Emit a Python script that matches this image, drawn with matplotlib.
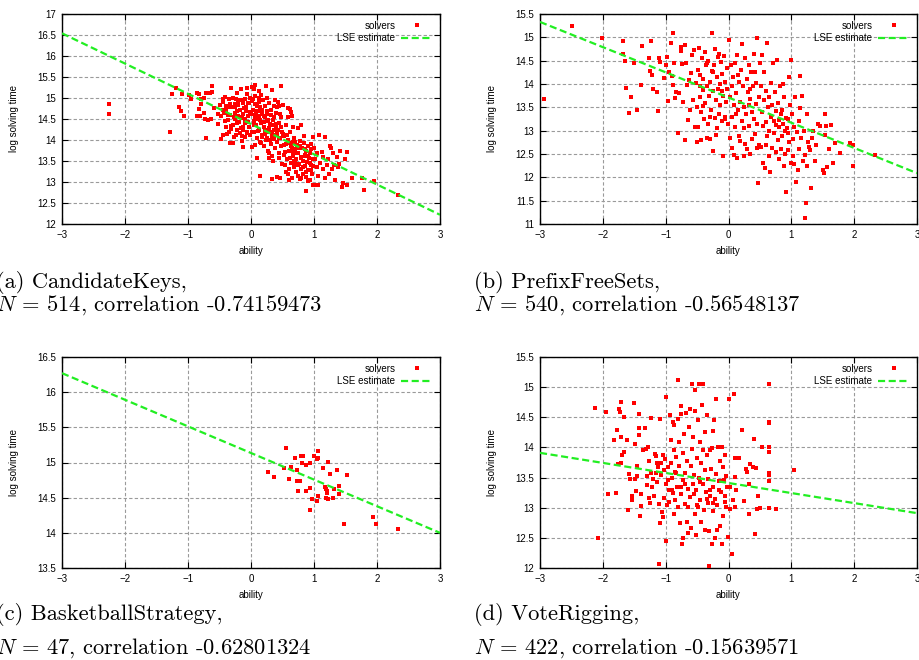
#!/usr/bin/env python3
"""Ability vs. log solving time for four problems, gnuplot-like 2x2 panel."""

import matplotlib

matplotlib.use("Agg")

import matplotlib.pyplot as plt
import numpy as np
from matplotlib.ticker import FormatStrFormatter, MultipleLocator

COLORS = {
    "point": "#ff0000",
    "line": "#22ee22",
    "grid": "#9a9a9a",
    "ink": "#000000",
}

LINE_X = [-3.0, 3.0]

# (a) CandidateKeys
A_PTS = [
    (-2.26, 14.85), (-2.25, 14.61), (-1.28, 14.18), (-1.26, 15.09), (-1.19, 15.24),
    (-1.15, 14.78), (-1.11, 14.68), (-1.06, 14.56), (-1.10, 15.09), (-0.99, 15.08),
    (-0.95, 14.98), (-0.86, 15.11), (-0.83, 15.10), (-0.86, 14.58), (-0.83, 14.73),
    (-0.81, 14.58), (-0.79, 14.86), (-0.79, 14.98), (-0.75, 14.99), (-0.75, 14.65),
    (-0.72, 15.13), (-0.73, 14.51), (-0.72, 14.04), (-0.68, 14.48), (-0.65, 15.13),
    (-0.62, 15.14), (-0.62, 15.29), (-0.64, 14.51), (-0.58, 14.76), (-0.53, 14.63),
    (-0.52, 14.37), (-0.49, 14.84), (-0.45, 14.97), (-0.47, 14.02), (-0.44, 14.11),
    (-0.43, 14.64), (-0.41, 15.03), (-0.40, 14.71), (-0.39, 14.32), (-0.37, 14.48),
    (-0.35, 14.98), (-0.34, 14.86), (-0.33, 14.59), (-0.33, 13.92), (-0.31, 15.25),
    (-0.31, 14.34), (-0.30, 14.79), (-0.29, 13.92), (-0.28, 15.00), (-0.27, 14.08),
    (-0.26, 14.50), (-0.25, 14.65), (-0.25, 14.79), (-0.24, 14.97), (-0.23, 14.24),
    (-0.22, 15.11), (-0.22, 14.40), (-0.21, 14.83), (-0.20, 14.57), (-0.18, 14.17),
    (-0.18, 14.95), (-0.17, 14.71), (-0.16, 15.21), (-0.16, 14.29), (-0.15, 13.97),
    (-0.14, 14.52), (-0.13, 14.87), (-0.12, 14.24), (-0.12, 14.63), (-0.12, 13.83),
    (-0.10, 14.97), (-0.09, 14.41), (-0.08, 14.79), (-0.07, 15.09), (-0.07, 14.16),
    (-0.06, 15.25), (-0.05, 14.56), (-0.04, 14.87), (-0.03, 14.32), (-0.02, 14.99),
    (-0.02, 14.67), (-0.01, 14.12), (-0.45, 14.72), (-0.38, 14.15), (-0.32, 14.26),
    (-0.27, 14.55), (-0.19, 14.44), (-0.11, 14.76), (-0.06, 14.20), (-0.44, 14.90),
    (-0.36, 14.60), (-0.23, 14.68), (-0.15, 14.10), (-0.09, 14.50), (-0.03, 14.88),
    (0.01, 15.27), (0.06, 15.30), (0.05, 15.21), (0.02, 13.84), (0.07, 13.88),
    (0.09, 13.56), (0.14, 13.14), (0.12, 15.17), (0.13, 14.99), (0.24, 15.29),
    (0.28, 13.56), (0.34, 15.19), (0.33, 13.08), (0.42, 13.13), (0.48, 15.29),
    (0.46, 13.09), (0.49, 13.44), (0.02, 14.93), (0.03, 14.72), (0.04, 14.45),
    (0.05, 14.20), (0.06, 14.60), (0.07, 14.85), (0.08, 14.35), (0.09, 14.05),
    (0.10, 14.68), (0.11, 14.50), (0.12, 14.90), (0.13, 14.25), (0.14, 13.95),
    (0.15, 14.78), (0.16, 14.40), (0.17, 14.62), (0.18, 14.12), (0.19, 14.95),
    (0.20, 14.30), (0.21, 13.85), (0.22, 14.55), (0.23, 14.80), (0.24, 14.00),
    (0.25, 14.45), (0.26, 14.70), (0.27, 13.75), (0.28, 14.20), (0.29, 14.88),
    (0.30, 14.38), (0.31, 13.90), (0.32, 14.60), (0.33, 14.10), (0.34, 13.62),
    (0.35, 14.48), (0.36, 14.82), (0.37, 14.02), (0.38, 13.80), (0.39, 14.30),
    (0.40, 14.65), (0.41, 13.95), (0.42, 14.15), (0.43, 14.90), (0.44, 13.70),
    (0.45, 14.40), (0.46, 14.05), (0.47, 13.85), (0.48, 14.55), (0.49, 14.20),
    (0.30, 14.00), (0.22, 14.15), (0.12, 14.58), (0.37, 14.25), (0.45, 13.58),
    (0.28, 13.68), (0.16, 13.92), (0.08, 14.62), (0.35, 13.50),
    (0.51, 14.83), (0.58, 14.76), (0.62, 14.75), (0.65, 14.56), (0.64, 14.67),
    (0.67, 14.32), (0.74, 14.28), (0.80, 14.36), (0.84, 14.10), (0.87, 12.79),
    (0.99, 14.06), (0.99, 12.93), (1.03, 12.93), (1.07, 12.93),
    (0.52, 13.65), (0.53, 14.10), (0.54, 13.40), (0.55, 13.90), (0.56, 14.35),
    (0.57, 13.55), (0.58, 13.20), (0.59, 14.00), (0.60, 13.75), (0.61, 13.30),
    (0.62, 14.20), (0.63, 13.85), (0.64, 13.45), (0.65, 13.10), (0.66, 13.95),
    (0.67, 13.62), (0.68, 13.35), (0.69, 14.05), (0.70, 13.78), (0.71, 13.25),
    (0.72, 13.55), (0.73, 13.88), (0.74, 13.15), (0.75, 13.70), (0.76, 13.42),
    (0.77, 13.98), (0.78, 13.08), (0.79, 13.60), (0.80, 13.30), (0.81, 13.82),
    (0.82, 13.50), (0.83, 13.20), (0.84, 13.92), (0.85, 13.65), (0.86, 13.38),
    (0.87, 13.12), (0.88, 13.75), (0.89, 13.48), (0.90, 13.85), (0.91, 13.28),
    (0.92, 13.58), (0.93, 13.05), (0.94, 13.70), (0.95, 13.40), (0.96, 13.90),
    (0.97, 13.18), (0.98, 13.55), (0.60, 13.05), (0.70, 13.45), (0.80, 13.10),
    (0.90, 13.02), (0.55, 13.25), (0.66, 13.72), (0.76, 13.82), (0.86, 13.62),
    (0.96, 13.28),
    (1.00, 13.80), (1.02, 13.55), (1.04, 13.35), (1.05, 13.68), (1.06, 13.15),
    (1.08, 14.13), (1.10, 13.45), (1.12, 13.72), (1.14, 13.30), (1.15, 13.60),
    (1.17, 14.07), (1.18, 13.10), (1.20, 13.40), (1.22, 13.55), (1.24, 13.20),
    (1.25, 13.85), (1.27, 13.82), (1.28, 13.30), (1.30, 13.70), (1.32, 13.40),
    (1.34, 13.05), (1.36, 13.60), (1.38, 13.35), (1.40, 13.42), (1.42, 13.75),
    (1.45, 12.88), (1.46, 12.98), (1.49, 13.55), (1.52, 12.93), (1.53, 13.72),
    (1.60, 13.10), (1.76, 13.10), (1.79, 12.82), (1.96, 13.03), (2.33, 12.70),
    (-0.42, 14.45), (-0.33, 14.78), (-0.28, 14.35), (-0.24, 14.12), (-0.20, 14.88),
    (-0.17, 14.55), (-0.13, 14.30), (-0.10, 14.06), (-0.08, 14.70), (-0.04, 14.42),
    (0.00, 14.62), (0.01, 14.18), (0.03, 14.98), (0.05, 14.35), (0.07, 14.52),
    (0.09, 14.80), (0.11, 14.22), (0.13, 14.70), (0.15, 14.48), (0.17, 14.08),
    (0.18, 14.72), (0.20, 14.58), (0.21, 14.42), (0.23, 14.25), (0.25, 14.62),
    (0.26, 14.05), (0.27, 14.48), (0.29, 14.28), (0.31, 14.72), (0.33, 14.35),
    (0.34, 14.18), (0.36, 14.55), (0.38, 14.12), (0.40, 14.38), (0.41, 14.78),
    (0.43, 14.25), (0.44, 14.05), (0.46, 14.62), (0.47, 14.32), (0.50, 14.15),
    (0.52, 13.88), (0.54, 13.72), (0.57, 14.12), (0.60, 13.92), (0.62, 13.58),
    (0.65, 13.80), (0.68, 13.50), (0.70, 13.95), (0.72, 13.68), (0.75, 13.40),
    (0.78, 13.85), (0.80, 13.58), (0.83, 13.35), (0.85, 13.78), (0.88, 13.25),
    (0.90, 13.62), (0.93, 13.45), (0.95, 13.78), (0.98, 13.38), (-0.48, 14.58),
    (-0.39, 14.82), (-0.35, 14.20), (-0.26, 14.85), (-0.14, 14.95), (0.06, 15.05),
    (0.16, 15.08), (0.26, 15.00), (0.38, 14.95), (0.44, 14.80), (0.58, 14.55),
]
A_LINE = [16.54, 12.22]

# (b) PrefixFreeSets
B_PTS = [
    (-2.93, 13.68), (-2.49, 15.24), (-2.02, 14.98), (-1.68, 14.93), (-1.68, 14.64),
    (-1.65, 14.50), (-1.63, 13.92), (-1.58, 13.38), (-1.55, 13.72), (-1.50, 14.45),
    (-1.45, 13.44), (-1.40, 13.98), (-1.38, 14.82), (-1.27, 14.55), (-1.24, 14.92),
    (-1.25, 14.27), (-1.22, 14.20), (-1.20, 13.90), (-1.13, 13.82), (-1.12, 13.43),
    (-1.10, 14.55), (-1.09, 14.48), (-1.03, 14.12), (-1.00, 14.40), (-0.98, 14.58),
    (-0.97, 13.64), (-0.95, 14.25), (-0.92, 14.87), (-0.90, 14.17), (-0.89, 15.10),
    (-0.88, 13.98), (-0.86, 14.45), (-0.85, 13.71), (-0.83, 13.82), (-0.80, 12.95),
    (-0.78, 13.80), (-0.76, 14.70), (-0.75, 14.80), (-0.74, 14.42), (-0.72, 13.62),
    (-0.70, 12.80), (-0.70, 14.84), (-0.68, 14.45), (-0.66, 13.98), (-0.65, 13.22),
    (-0.63, 14.08), (-0.61, 13.45), (-0.60, 14.23),
    (-0.58, 14.62), (-0.56, 13.66), (-0.55, 14.72), (-0.54, 13.08), (-0.52, 14.02),
    (-0.50, 13.50), (-0.49, 14.30), (-0.48, 13.08), (-0.47, 14.78), (-0.46, 13.72),
    (-0.45, 14.20), (-0.44, 13.40), (-0.43, 12.80), (-0.42, 14.55), (-0.41, 13.88),
    (-0.40, 14.10), (-0.39, 13.25), (-0.38, 14.68), (-0.37, 13.60), (-0.36, 14.40),
    (-0.35, 12.85), (-0.34, 13.95), (-0.33, 13.15), (-0.32, 14.50), (-0.31, 13.75),
    (-0.30, 14.05), (-0.29, 12.82), (-0.28, 13.45), (-0.27, 15.10), (-0.26, 14.28),
    (-0.25, 12.56), (-0.24, 13.85), (-0.23, 14.40), (-0.22, 13.28), (-0.21, 14.75),
    (-0.20, 13.65), (-0.19, 14.15), (-0.18, 13.05), (-0.17, 14.58), (-0.16, 13.90),
    (-0.15, 13.35), (-0.14, 14.00), (-0.13, 13.55), (-0.12, 14.48), (-0.11, 13.20),
    (-0.10, 14.22), (-0.09, 13.75), (-0.08, 12.45), (-0.07, 14.60), (-0.06, 13.30),
    (-0.05, 14.05), (-0.04, 13.62), (-0.03, 14.35), (-0.02, 13.90), (-0.01, 13.15),
    (-0.50, 12.75), (-0.40, 13.52), (-0.30, 13.30), (-0.20, 12.90), (-0.10, 13.85),
    (-0.45, 13.95), (-0.35, 14.45), (-0.25, 14.25), (-0.15, 14.65), (-0.05, 13.25),
    (0.01, 14.95), (0.02, 13.72), (0.03, 12.85), (0.04, 14.40), (0.05, 13.95),
    (0.06, 13.30), (0.07, 14.15), (0.08, 12.48), (0.09, 13.55), (0.10, 14.45),
    (0.11, 13.08), (0.12, 13.80), (0.13, 12.42), (0.14, 14.62), (0.15, 13.45),
    (0.16, 12.88), (0.17, 14.05), (0.18, 13.62), (0.19, 12.78), (0.20, 14.30),
    (0.21, 13.20), (0.22, 14.85), (0.23, 13.95), (0.24, 12.45), (0.25, 13.50),
    (0.26, 14.55), (0.27, 12.72), (0.28, 13.35), (0.29, 14.10), (0.30, 12.60),
    (0.31, 13.82), (0.32, 14.40), (0.33, 13.10), (0.34, 13.68), (0.35, 12.50),
    (0.36, 14.25), (0.37, 13.40), (0.38, 12.82), (0.39, 13.95), (0.40, 14.65),
    (0.41, 13.25), (0.42, 12.92), (0.43, 13.58), (0.44, 14.02), (0.45, 13.15),
    (0.46, 14.98), (0.47, 11.88), (0.48, 13.72), (0.49, 12.70), (0.50, 14.45),
    (0.05, 12.62), (0.15, 14.20), (0.25, 13.05), (0.35, 13.90), (0.45, 12.62),
    (0.12, 13.35), (0.32, 13.55), (0.42, 14.25),
    (0.51, 12.65), (0.52, 13.95), (0.53, 13.40), (0.54, 14.62), (0.55, 12.30),
    (0.56, 13.65), (0.57, 14.25), (0.58, 12.20), (0.59, 13.18), (0.60, 13.85),
    (0.61, 12.88), (0.62, 14.88), (0.63, 13.50), (0.64, 12.45), (0.65, 13.72),
    (0.66, 12.12), (0.67, 14.02), (0.68, 13.30), (0.69, 12.62), (0.70, 13.55),
    (0.71, 14.45), (0.72, 12.95), (0.73, 13.20), (0.74, 13.82), (0.75, 12.55),
    (0.76, 13.42), (0.77, 14.52), (0.78, 12.80), (0.79, 13.60), (0.80, 12.40),
    (0.81, 13.08), (0.82, 13.95), (0.83, 12.60), (0.84, 13.35), (0.85, 12.88),
    (0.86, 14.00), (0.87, 13.15), (0.88, 12.25), (0.89, 13.72), (0.90, 12.50),
    (0.91, 13.28), (0.92, 11.68), (0.93, 13.05), (0.94, 12.58), (0.95, 13.25),
    (0.96, 12.75), (0.97, 14.15), (0.98, 13.55), (0.99, 14.52), (0.55, 13.10),
    (0.65, 13.00), (0.75, 13.12), (0.85, 13.45), (0.95, 12.95), (0.60, 12.70),
    (0.80, 13.22), (0.90, 13.00),
    (1.00, 12.30), (1.01, 13.35), (1.02, 12.82), (1.03, 12.45), (1.04, 13.08),
    (1.05, 12.28), (1.06, 13.72), (1.08, 11.90), (1.09, 12.98), (1.10, 12.15),
    (1.12, 12.60), (1.13, 13.48), (1.14, 14.18), (1.15, 12.85), (1.17, 13.75),
    (1.18, 12.35), (1.20, 13.00), (1.21, 12.48), (1.22, 11.12), (1.23, 11.45),
    (1.25, 12.25), (1.27, 12.75), (1.30, 12.58), (1.31, 11.77), (1.33, 12.85),
    (1.35, 13.00), (1.38, 12.35), (1.40, 12.70), (1.42, 13.15), (1.50, 12.15),
    (1.52, 12.10), (1.53, 13.35), (1.54, 12.90), (1.55, 13.10), (1.57, 12.22),
    (1.60, 12.60), (1.63, 13.12), (1.66, 12.30), (1.69, 12.73), (1.78, 12.52),
    (1.94, 12.73), (1.98, 12.25), (1.98, 12.70), (2.33, 12.48), (1.28, 12.65),
    (1.45, 13.10), (1.12, 13.20), (1.25, 13.35),
]
B_LINE = [15.33, 12.09]

# (c) BasketballStrategy
C_PTS = [
    (0.27, 14.86), (0.36, 14.80), (0.52, 14.92), (0.56, 15.21), (0.61, 14.76),
    (0.63, 14.93), (0.70, 15.06), (0.73, 14.90), (0.73, 14.74), (0.75, 14.60),
    (0.78, 14.73), (0.79, 15.09), (0.82, 15.09), (0.81, 14.99), (0.88, 14.96),
    (0.88, 14.60), (0.94, 15.00), (0.94, 14.64), (0.94, 14.33), (0.97, 14.48),
    (1.00, 15.09), (1.04, 14.45), (1.05, 15.05), (1.06, 14.53), (1.07, 15.16),
    (1.07, 15.07), (1.14, 14.92), (1.17, 14.65), (1.19, 14.63), (1.19, 14.50),
    (1.21, 14.57), (1.21, 14.59), (1.22, 14.48), (1.23, 15.01), (1.25, 14.84),
    (1.30, 14.49), (1.32, 14.63), (1.37, 14.90), (1.40, 14.66), (1.40, 14.55),
    (1.48, 14.12), (1.52, 14.82), (1.93, 14.22), (1.98, 14.13), (2.34, 14.05),
]
C_LINE = [16.27, 14.00]

# (d) VoteRigging
D_PTS = [
    (-2.13, 14.66), (-2.07, 12.50), (-1.95, 14.59), (-1.91, 13.22), (-1.83, 14.12),
    (-1.79, 13.25), (-1.77, 14.29), (-1.76, 13.72), (-1.75, 14.64), (-1.73, 14.58),
    (-1.71, 14.76), (-1.71, 14.18), (-1.70, 13.87), (-1.71, 13.74), (-1.66, 14.51),
    (-1.66, 13.93), (-1.62, 14.13), (-1.60, 12.96), (-1.58, 13.56), (-1.57, 13.47),
    (-1.53, 13.19), (-1.53, 13.13), (-1.51, 14.74), (-1.49, 14.06), (-1.49, 13.48),
    (-1.47, 13.27), (-1.46, 13.69), (-1.45, 13.53), (-1.43, 14.21), (-1.43, 14.33),
    (-1.42, 14.56), (-1.41, 12.86), (-1.40, 13.03), (-1.40, 13.22), (-1.36, 13.95),
    (-1.33, 14.32), (-1.32, 13.98), (-1.30, 13.52), (-1.29, 13.37), (-1.28, 14.00),
    (-1.27, 13.16), (-1.26, 13.78), (-1.25, 13.07), (-1.24, 13.58), (-1.23, 14.48),
    (-1.21, 13.35), (-1.20, 13.47), (-1.18, 13.20), (-1.17, 13.89), (-1.16, 13.57),
    (-1.15, 13.85), (-1.14, 13.43), (-1.13, 13.75), (-1.12, 13.67), (-1.11, 13.06),
    (-1.10, 12.06), (-1.09, 12.75), (-1.09, 14.47), (-1.08, 13.55), (-1.07, 13.74),
    (-1.06, 12.93), (-1.05, 12.84), (-1.04, 13.87), (-1.03, 13.62), (-1.02, 13.16),
    (-1.01, 13.80), (-1.00, 13.40), (-0.99, 12.45), (-0.99, 14.84), (-0.98, 13.04),
    (-0.97, 13.67), (-0.96, 13.46), (-0.95, 13.30), (-0.93, 14.53), (-0.92, 14.12),
    (-0.91, 13.74), (-0.90, 13.50), (-0.89, 14.42), (-0.88, 13.25), (-0.87, 13.96),
    (-0.86, 12.90), (-0.86, 14.37), (-0.85, 13.12), (-0.84, 13.84), (-0.83, 13.57),
    (-0.82, 13.35), (-0.81, 14.47), (-0.80, 15.12), (-0.80, 13.01), (-0.79, 14.09),
    (-0.78, 13.69), (-0.77, 12.74), (-0.76, 14.55), (-0.75, 14.69), (-0.75, 13.23),
    (-0.74, 12.39), (-0.73, 13.46), (-0.72, 12.50), (-0.72, 13.91), (-0.71, 14.23),
    (-0.70, 13.06), (-0.69, 13.58), (-0.67, 14.57), (-0.66, 13.78), (-0.66, 12.77),
    (-0.65, 13.31), (-0.64, 12.58), (-0.63, 14.34), (-0.62, 14.64), (-0.61, 13.17),
    (-0.60, 13.70), (-0.59, 12.66), (-0.58, 13.98), (-0.58, 15.05), (-0.57, 13.39),
    (-0.56, 14.18), (-0.55, 13.55), (-0.54, 14.95), (-0.54, 12.90), (-0.53, 14.60),
    (-0.52, 13.29), (-0.51, 12.55), (-0.50, 13.83), (-0.49, 14.46), (-0.48, 13.02),
    (-0.47, 15.05), (-0.47, 13.50), (-0.46, 14.09), (-0.45, 13.13), (-0.44, 13.75),
    (-0.43, 12.76), (-0.42, 14.71), (-0.41, 13.40), (-0.40, 15.05), (-0.40, 13.95),
    (-0.39, 12.96), (-0.38, 13.62), (-0.37, 12.63), (-0.37, 14.25), (-0.36, 13.26),
    (-0.35, 14.53), (-0.34, 13.87), (-0.33, 13.08), (-0.32, 13.48), (-0.31, 12.03),
    (-0.31, 12.62), (-0.30, 13.96), (-0.29, 13.19), (-0.28, 13.64), (-0.27, 12.39),
    (-0.26, 13.99), (-0.25, 12.95), (-0.25, 13.34), (-0.24, 14.27), (-0.23, 14.46),
    (-0.22, 12.50), (-0.21, 13.15), (-0.20, 14.81), (-0.20, 13.56), (-0.19, 12.63),
    (-0.18, 13.04), (-0.16, 14.00), (-0.15, 13.45), (-0.14, 12.69), (-0.13, 13.78),
    (-0.12, 13.26), (-0.11, 12.39), (-0.10, 14.00), (-0.09, 12.87), (-0.08, 13.68),
    (-0.07, 13.46), (-0.06, 13.20), (-0.05, 13.87), (-0.04, 13.02), (-0.04, 13.53),
    (-0.03, 13.34), (-0.01, 12.51), (0.01, 14.81), (0.02, 12.98), (0.03, 13.34),
    (0.05, 12.23), (0.07, 13.12), (0.09, 14.89), (0.10, 13.82), (0.10, 13.02),
    (0.11, 13.51), (0.12, 13.30), (0.17, 13.82), (0.22, 14.29), (0.24, 13.11),
    (0.28, 13.65), (0.30, 13.59), (0.32, 12.90), (0.33, 13.40), (0.35, 13.72),
    (0.39, 13.68), (0.41, 14.14), (0.42, 12.57), (0.43, 13.66), (0.47, 13.20),
    (0.46, 12.98), (0.50, 13.00), (0.54, 14.00), (0.64, 14.40), (0.64, 14.43),
    (0.64, 14.00), (0.64, 13.92), (0.64, 13.57), (0.64, 13.54), (0.64, 13.45),
    (0.64, 13.00), (0.64, 15.06), (0.75, 12.98), (1.05, 13.63),
    (-0.95, 13.10), (-0.85, 13.60), (-0.75, 13.35), (-0.65, 13.02), (-0.55, 13.22),
    (-0.45, 13.42), (-0.35, 13.15), (-0.25, 13.08), (-0.15, 13.30), (-0.05, 13.10),
    (-0.90, 13.30), (-0.70, 13.40), (-0.50, 13.05), (-0.30, 13.30), (-0.10, 13.45),
]
D_LINE = [13.91, 12.91]

PANELS = [
    ("a", "CandidateKeys", 514, "-0.74159473", A_PTS, A_LINE, (12.0, 17.0)),
    ("b", "PrefixFreeSets", 540, "-0.56548137", B_PTS, B_LINE, (11.0, 15.5)),
    ("c", "BasketballStrategy", 47, "-0.62801324", C_PTS, C_LINE, (13.5, 16.5)),
    ("d", "VoteRigging", 422, "-0.15639571", D_PTS, D_LINE, (12.0, 15.5)),
]

W, H = 919, 660
AX_RECTS = [
    (62, 14, 378, 210),
    (540, 14, 377, 210),
    (62, 357, 378, 211),
    (540, 357, 377, 211),
]
CAPTION_X = [-4, 474, -4, 474]
CAPTION_Y = [282, 305, 615, 648]


def setup_style() -> None:
    plt.rcParams.update(
        {
            "font.family": ["Liberation Sans", "DejaVu Sans"],
            "font.size": 7,
            "mathtext.fontset": "cm",
            "axes.linewidth": 1.0,
            "axes.edgecolor": COLORS["ink"],
        }
    )


def draw_panel(ax, pts, line_y, ylim) -> None:
    x = np.array([p[0] for p in pts])
    y = np.array([p[1] for p in pts])
    ax.plot(x, y, "s", color=COLORS["point"], ms=2.6, mew=0, label="solvers", zorder=3)
    ax.plot(LINE_X, line_y, color=COLORS["line"], lw=1.6, ls=(0, (3.2, 1.6)),
            label="LSE estimate", zorder=4)

    ax.set_xlim(-3, 3)
    ax.set_ylim(*ylim)
    ax.xaxis.set_major_locator(MultipleLocator(1))
    ax.yaxis.set_major_locator(MultipleLocator(0.5))
    ax.yaxis.set_major_formatter(FormatStrFormatter("%g"))
    ax.tick_params(direction="in", top=True, right=True, length=4, width=0.8,
                   labelsize=7, pad=4)
    ax.grid(color=COLORS["grid"], lw=0.8, ls=(0, (3, 2)), zorder=0)
    ax.set_axisbelow(True)
    ax.set_xlabel("ability", fontsize=7, labelpad=5)
    ax.set_ylabel("log solving time", fontsize=7)
    ax.yaxis.set_label_coords(-0.115, 0.5)

    ax.legend(loc="upper right", frameon=False, markerfirst=False, fontsize=7,
              handlelength=3.3, handletextpad=0.6, labelspacing=0.25,
              borderaxespad=0.3, numpoints=1)


def main() -> None:
    setup_style()
    fig = plt.figure(figsize=(W / 100, H / 100), dpi=100)

    for i, (tag, name, n, corr, pts, line_y, ylim) in enumerate(PANELS):
        left, top, width, height = AX_RECTS[i]
        ax = fig.add_axes([left / W, 1 - (top + height) / H, width / W, height / H])
        draw_panel(ax, pts, line_y, ylim)

        row = i // 2
        cx = CAPTION_X[i] / W
        fig.text(cx, 1 - CAPTION_Y[2 * row] / H, f"({tag}) {name},",
                 family="cmr10", fontsize=16.2, va="center", ha="left")
        fig.text(cx, 1 - CAPTION_Y[2 * row + 1] / H,
                 rf"$N$ = {n}, correlation {corr}",
                 family="cmr10", fontsize=16.2, va="center", ha="left")

    fig.savefig("out.png", dpi=100)
    plt.close(fig)


if __name__ == "__main__":
    main()
